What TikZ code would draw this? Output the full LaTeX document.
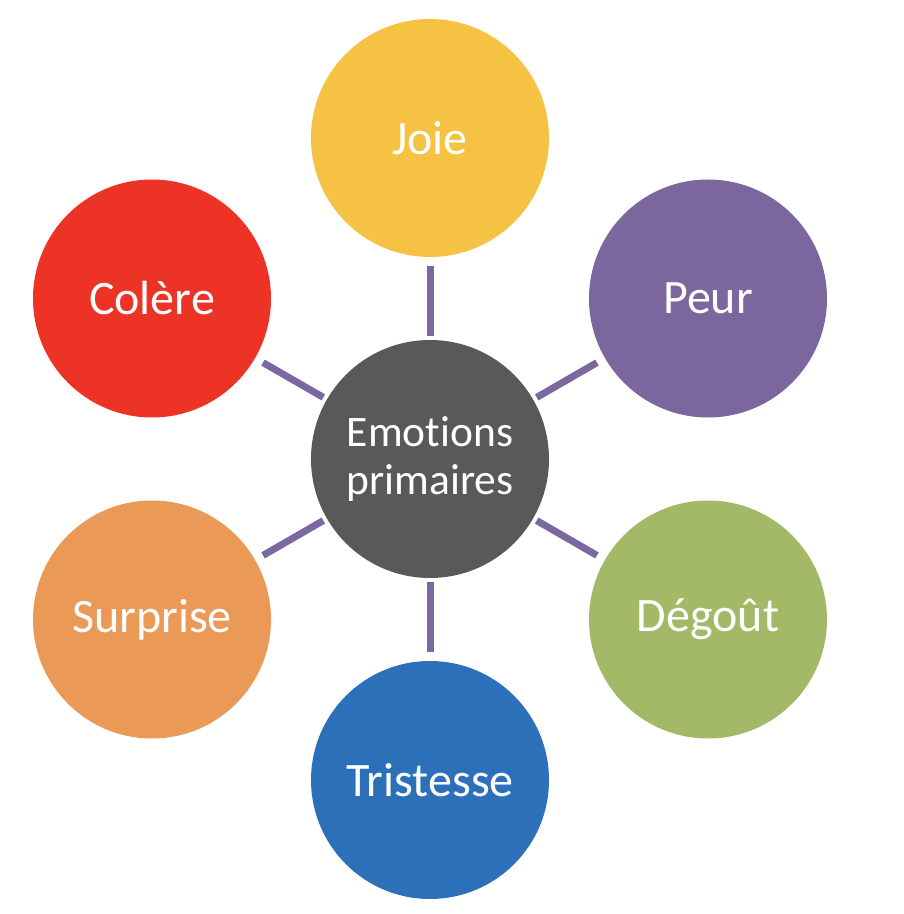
\documentclass[tikz,border=0pt]{standalone}
\usepackage{fontspec}
\setmainfont{Carlito}[RawFeature=-liga]
\definecolor{cjoie}{HTML}{F5C243}
\definecolor{cpeur}{HTML}{7B679E}
\definecolor{ccolere}{HTML}{EC3326}
\definecolor{csurprise}{HTML}{EA9A56}
\definecolor{cdegout}{HTML}{A4B967}
\definecolor{ctristesse}{HTML}{2C70BA}
\definecolor{ccentre}{HTML}{595959}
\definecolor{clink}{HTML}{7B68A0}
\begin{document}
\begin{tikzpicture}[x=1pt,y=1pt,
  emo/.style={circle,minimum size=238pt,inner sep=0pt,text=white,font=\fontsize{48}{54}\selectfont},
  hub/.style={circle,minimum size=238pt,inner sep=0pt,fill=ccentre,text=white,align=center,font=\fontsize{43.5}{48}\selectfont},
  link/.style={draw=clink,line width=7pt,shorten <=4pt,shorten >=9pt}]
\useasboundingbox (0,0) rectangle (904,914);
\node[hub] (c) at (430,455) {Emotions\\primaires};
\node[emo,fill=cjoie] (joie) at (430,776) {Joie};
\node[emo,fill=cpeur] (peur) at (708,615.5) {Peur};
\node[emo,fill=cdegout] (degout) at (708,294.5) {Dégoût};
\node[emo,fill=ctristesse] (tristesse) at (430,134) {Tristesse};
\node[emo,fill=csurprise] (surprise) at (152,294.5) {Surprise};
\node[emo,fill=ccolere] (colere) at (152,615.5) {Colère};
\foreach \n in {joie,peur,degout,tristesse,surprise,colere}
  \draw[link] (c) -- (\n);
\end{tikzpicture}
\end{document}
